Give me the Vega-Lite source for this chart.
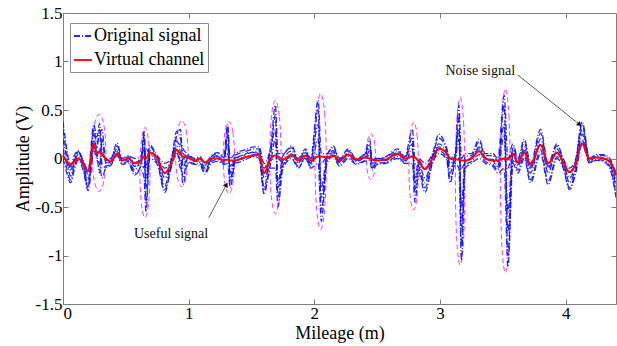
{
  "$schema": "https://vega.github.io/schema/vega-lite/v6.json",
  "width": 553,
  "height": 291,
  "autosize": "none",
  "padding": {"left": 63, "top": 13, "right": 1, "bottom": 42},
  "background": "white",
  "config": {
    "font": "Liberation Serif",
    "view": {"stroke": "#7f7f7f", "strokeWidth": 1},
    "axis": {
      "grid": false,
      "domainColor": "#7f7f7f",
      "tickColor": "#7f7f7f",
      "tickSize": -5,
      "labelFont": "Liberation Serif",
      "labelFontSize": 17,
      "labelColor": "#000000",
      "titleFont": "Liberation Serif",
      "titleFontSize": 18,
      "titleFontWeight": "normal",
      "titleColor": "#000000"
    }
  },
  "resolve": {"axis": {"x": "independent", "y": "independent"}},
  "datasets": {
    "sig": [
      {"x": 0.00, "a": 0.38, "b": 0.0, "c": 0.2, "d": 0.1, "e": 0.3, "f": 0.05, "r": 0.03},
      {"x": 0.03, "a": 0.1, "b": -0.15, "c": 0.0, "d": -0.05, "e": 0.05, "f": -0.1, "r": -0.03},
      {"x": 0.06, "a": -0.08, "b": -0.25, "c": -0.18, "d": -0.12, "e": -0.1, "f": -0.22, "r": -0.06},
      {"x": 0.09, "a": 0.03, "b": -0.12, "c": -0.05, "d": -0.02, "e": 0.0, "f": -0.08, "r": -0.03},
      {"x": 0.12, "a": 0.08, "b": -0.02, "c": 0.04, "d": 0.06, "e": 0.07, "f": 0.01, "r": 0.0},
      {"x": 0.16, "a": -0.02, "b": -0.12, "c": -0.06, "d": -0.04, "e": -0.03, "f": -0.09, "r": -0.05},
      {"x": 0.20, "a": -0.12, "b": -0.33, "c": -0.22, "d": -0.28, "e": -0.16, "f": -0.3, "r": -0.13},
      {"x": 0.245, "a": 0.35, "b": 0.08, "c": 0.25, "d": 0.18, "e": 0.3, "f": 0.12, "r": 0.15},
      {"x": 0.27, "a": 0.22, "b": -0.02, "c": 0.1, "d": 0.05, "e": 0.15, "f": 0.02, "r": 0.05},
      {"x": 0.29, "a": 0.36, "b": -0.05, "c": 0.3, "d": -0.15, "e": 0.25, "f": 0.1, "r": 0.07},
      {"x": 0.31, "a": 0.1, "b": -0.2, "c": -0.05, "d": 0.2, "e": 0.3, "f": -0.1, "r": 0.04},
      {"x": 0.34, "a": 0.0, "b": -0.1, "c": -0.05, "d": -0.04, "e": -0.02, "f": -0.08, "r": 0.0},
      {"x": 0.38, "a": 0.0, "b": -0.07, "c": -0.03, "d": -0.05, "e": -0.01, "f": -0.06, "r": -0.03},
      {"x": 0.43, "a": 0.16, "b": 0.03, "c": 0.1, "d": 0.07, "e": 0.13, "f": 0.05, "r": 0.05},
      {"x": 0.47, "a": 0.0, "b": -0.06, "c": -0.03, "d": -0.01, "e": -0.02, "f": -0.05, "r": -0.02},
      {"x": 0.52, "a": 0.03, "b": -0.05, "c": 0.0, "d": -0.02, "e": 0.02, "f": -0.03, "r": 0.0},
      {"x": 0.57, "a": 0.0, "b": -0.17, "c": -0.08, "d": -0.12, "e": -0.04, "f": -0.15, "r": -0.05},
      {"x": 0.62, "a": 0.02, "b": -0.12, "c": -0.05, "d": -0.03, "e": 0.0, "f": -0.08, "r": -0.02},
      {"x": 0.645, "a": 0.28, "b": -0.2, "c": 0.2, "d": -0.1, "e": 0.1, "f": 0.25, "r": 0.02},
      {"x": 0.66, "a": -0.1, "b": -0.55, "c": -0.45, "d": 0.1, "e": -0.3, "f": -0.2, "r": 0.0},
      {"x": 0.69, "a": 0.14, "b": 0.0, "c": 0.08, "d": 0.05, "e": 0.12, "f": 0.03, "r": 0.06},
      {"x": 0.75, "a": 0.03, "b": -0.06, "c": -0.01, "d": 0.0, "e": 0.02, "f": -0.04, "r": 0.0},
      {"x": 0.81, "a": -0.05, "b": -0.35, "c": -0.2, "d": -0.28, "e": -0.1, "f": -0.32, "r": -0.15},
      {"x": 0.86, "a": 0.0, "b": -0.1, "c": -0.05, "d": -0.03, "e": -0.02, "f": -0.08, "r": -0.05},
      {"x": 0.905, "a": 0.28, "b": 0.05, "c": 0.18, "d": 0.12, "e": 0.24, "f": 0.08, "r": 0.09},
      {"x": 0.935, "a": 0.2, "b": -0.05, "c": 0.05, "d": 0.15, "e": 0.3, "f": -0.1, "r": 0.04},
      {"x": 0.955, "a": 0.1, "b": -0.27, "c": -0.2, "d": 0.05, "e": -0.1, "f": 0.0, "r": 0.02},
      {"x": 0.99, "a": 0.05, "b": -0.05, "c": 0.0, "d": 0.02, "e": 0.03, "f": -0.03, "r": 0.01},
      {"x": 1.05, "a": 0.0, "b": -0.06, "c": -0.03, "d": -0.02, "e": -0.01, "f": -0.05, "r": -0.02},
      {"x": 1.09, "a": 0.02, "b": -0.07, "c": -0.02, "d": -0.04, "e": 0.0, "f": -0.05, "r": 0.0},
      {"x": 1.13, "a": -0.05, "b": -0.16, "c": -0.1, "d": -0.12, "e": -0.07, "f": -0.14, "r": -0.04},
      {"x": 1.18, "a": 0.03, "b": -0.05, "c": -0.01, "d": 0.0, "e": 0.02, "f": -0.03, "r": 0.0},
      {"x": 1.23, "a": 0.06, "b": -0.03, "c": 0.02, "d": 0.03, "e": 0.05, "f": -0.01, "r": 0.0},
      {"x": 1.28, "a": 0.03, "b": -0.06, "c": -0.01, "d": -0.03, "e": 0.01, "f": -0.05, "r": -0.02},
      {"x": 1.31, "a": 0.35, "b": -0.05, "c": 0.25, "d": 0.05, "e": 0.15, "f": 0.3, "r": -0.01},
      {"x": 1.33, "a": 0.0, "b": -0.3, "c": -0.25, "d": -0.08, "e": -0.15, "f": -0.2, "r": -0.02},
      {"x": 1.37, "a": 0.05, "b": -0.05, "c": 0.0, "d": 0.01, "e": 0.03, "f": -0.03, "r": -0.02},
      {"x": 1.42, "a": 0.08, "b": -0.03, "c": 0.03, "d": 0.01, "e": 0.06, "f": -0.01, "r": 0.0},
      {"x": 1.47, "a": 0.1, "b": 0.0, "c": 0.05, "d": 0.06, "e": 0.08, "f": 0.02, "r": 0.02},
      {"x": 1.52, "a": 0.12, "b": 0.02, "c": 0.07, "d": 0.06, "e": 0.1, "f": 0.04, "r": 0.03},
      {"x": 1.56, "a": 0.12, "b": 0.0, "c": 0.08, "d": 0.05, "e": 0.1, "f": 0.02, "r": 0.04},
      {"x": 1.60, "a": -0.05, "b": -0.37, "c": -0.2, "d": -0.3, "e": -0.1, "f": -0.33, "r": -0.15},
      {"x": 1.65, "a": 0.1, "b": -0.1, "c": 0.02, "d": -0.02, "e": 0.07, "f": -0.06, "r": 0.0},
      {"x": 1.69, "a": 0.55, "b": -0.1, "c": 0.45, "d": 0.0, "e": 0.3, "f": 0.2, "r": 0.03},
      {"x": 1.71, "a": 0.05, "b": -0.5, "c": -0.4, "d": 0.0, "e": -0.25, "f": -0.3, "r": 0.02},
      {"x": 1.75, "a": 0.05, "b": -0.1, "c": -0.02, "d": -0.05, "e": 0.03, "f": -0.07, "r": -0.01},
      {"x": 1.82, "a": 0.13, "b": 0.0, "c": 0.08, "d": 0.05, "e": 0.11, "f": 0.02, "r": 0.04},
      {"x": 1.87, "a": 0.0, "b": -0.1, "c": -0.05, "d": -0.04, "e": -0.02, "f": -0.08, "r": -0.02},
      {"x": 1.93, "a": 0.1, "b": 0.0, "c": 0.06, "d": 0.03, "e": 0.08, "f": 0.01, "r": 0.03},
      {"x": 1.97, "a": 0.0, "b": -0.1, "c": -0.05, "d": -0.06, "e": -0.02, "f": -0.08, "r": -0.02},
      {"x": 2.03, "a": 0.6, "b": -0.05, "c": 0.5, "d": 0.05, "e": 0.35, "f": 0.2, "r": 0.02},
      {"x": 2.055, "a": 0.05, "b": -0.65, "c": -0.55, "d": -0.05, "e": -0.3, "f": -0.4, "r": 0.02},
      {"x": 2.10, "a": 0.05, "b": -0.05, "c": 0.0, "d": 0.02, "e": 0.03, "f": -0.03, "r": 0.01},
      {"x": 2.15, "a": 0.13, "b": 0.02, "c": 0.08, "d": 0.06, "e": 0.11, "f": 0.04, "r": 0.03},
      {"x": 2.20, "a": 0.0, "b": -0.08, "c": -0.04, "d": -0.03, "e": -0.01, "f": -0.06, "r": -0.02},
      {"x": 2.27, "a": 0.1, "b": 0.0, "c": 0.06, "d": 0.04, "e": 0.08, "f": 0.02, "r": 0.04},
      {"x": 2.33, "a": 0.0, "b": -0.06, "c": -0.03, "d": -0.02, "e": -0.01, "f": -0.05, "r": -0.01},
      {"x": 2.40, "a": 0.05, "b": -0.03, "c": 0.02, "d": 0.01, "e": 0.04, "f": -0.02, "r": 0.01},
      {"x": 2.44, "a": 0.2, "b": -0.02, "c": 0.15, "d": 0.03, "e": 0.1, "f": 0.08, "r": 0.0},
      {"x": 2.46, "a": 0.0, "b": -0.12, "c": -0.08, "d": 0.0, "e": -0.05, "f": -0.1, "r": -0.01},
      {"x": 2.50, "a": 0.0, "b": -0.06, "c": -0.03, "d": -0.02, "e": -0.01, "f": -0.05, "r": -0.02},
      {"x": 2.57, "a": 0.02, "b": -0.05, "c": -0.01, "d": -0.02, "e": 0.01, "f": -0.04, "r": -0.01},
      {"x": 2.66, "a": 0.1, "b": 0.0, "c": 0.06, "d": 0.04, "e": 0.08, "f": 0.02, "r": 0.05},
      {"x": 2.72, "a": 0.02, "b": -0.05, "c": 0.0, "d": -0.02, "e": 0.01, "f": -0.04, "r": 0.0},
      {"x": 2.78, "a": 0.3, "b": -0.05, "c": 0.22, "d": 0.02, "e": 0.15, "f": 0.1, "r": 0.02},
      {"x": 2.80, "a": 0.0, "b": -0.45, "c": -0.35, "d": -0.05, "e": -0.2, "f": -0.25, "r": 0.01},
      {"x": 2.83, "a": 0.0, "b": -0.15, "c": -0.05, "d": -0.08, "e": -0.02, "f": -0.12, "r": -0.03},
      {"x": 2.88, "a": -0.05, "b": -0.35, "c": -0.2, "d": -0.25, "e": -0.1, "f": -0.3, "r": -0.11},
      {"x": 2.94, "a": 0.05, "b": -0.05, "c": 0.0, "d": 0.02, "e": 0.03, "f": -0.03, "r": 0.0},
      {"x": 2.99, "a": 0.25, "b": 0.05, "c": 0.15, "d": 0.12, "e": 0.21, "f": 0.08, "r": 0.1},
      {"x": 3.05, "a": 0.12, "b": 0.0, "c": 0.07, "d": 0.05, "e": 0.1, "f": 0.02, "r": 0.06},
      {"x": 3.08, "a": 0.0, "b": -0.25, "c": -0.1, "d": -0.15, "e": -0.05, "f": -0.2, "r": 0.0},
      {"x": 3.12, "a": 0.05, "b": -0.05, "c": 0.0, "d": 0.02, "e": 0.03, "f": -0.03, "r": -0.01},
      {"x": 3.15, "a": 0.55, "b": -0.1, "c": 0.45, "d": 0.0, "e": 0.3, "f": 0.2, "r": -0.01},
      {"x": 3.17, "a": 0.0, "b": -1.05, "c": -0.9, "d": -0.1, "e": -0.5, "f": -0.7, "r": -0.02},
      {"x": 3.20, "a": 0.05, "b": -0.1, "c": -0.02, "d": -0.04, "e": 0.02, "f": -0.07, "r": -0.02},
      {"x": 3.25, "a": 0.05, "b": -0.05, "c": 0.0, "d": 0.01, "e": 0.03, "f": -0.03, "r": 0.0},
      {"x": 3.31, "a": 0.2, "b": 0.0, "c": 0.12, "d": 0.1, "e": 0.17, "f": 0.04, "r": 0.075},
      {"x": 3.36, "a": 0.05, "b": -0.05, "c": 0.0, "d": 0.01, "e": 0.03, "f": -0.03, "r": 0.0},
      {"x": 3.42, "a": 0.05, "b": -0.08, "c": -0.01, "d": -0.02, "e": 0.03, "f": -0.06, "r": -0.02},
      {"x": 3.46, "a": 0.0, "b": -0.15, "c": -0.08, "d": -0.1, "e": -0.03, "f": -0.12, "r": -0.02},
      {"x": 3.51, "a": 0.65, "b": -0.1, "c": 0.55, "d": 0.0, "e": 0.35, "f": 0.25, "r": 0.0},
      {"x": 3.54, "a": 0.0, "b": -1.12, "c": -1.0, "d": -0.1, "e": -0.55, "f": -0.75, "r": -0.01},
      {"x": 3.58, "a": 0.15, "b": -0.05, "c": 0.05, "d": 0.08, "e": 0.12, "f": -0.02, "r": 0.05},
      {"x": 3.62, "a": 0.0, "b": -0.15, "c": -0.08, "d": -0.06, "e": -0.02, "f": -0.12, "r": -0.04},
      {"x": 3.67, "a": 0.2, "b": 0.0, "c": 0.12, "d": 0.08, "e": 0.17, "f": 0.03, "r": 0.06},
      {"x": 3.72, "a": -0.05, "b": -0.25, "c": -0.15, "d": -0.1, "e": -0.08, "f": -0.22, "r": -0.06},
      {"x": 3.80, "a": 0.3, "b": 0.05, "c": 0.2, "d": 0.15, "e": 0.26, "f": 0.09, "r": 0.14},
      {"x": 3.86, "a": -0.05, "b": -0.27, "c": -0.15, "d": -0.1, "e": -0.08, "f": -0.23, "r": -0.05},
      {"x": 3.93, "a": 0.15, "b": 0.0, "c": 0.1, "d": 0.06, "e": 0.13, "f": 0.02, "r": 0.06},
      {"x": 3.98, "a": 0.0, "b": -0.1, "c": -0.05, "d": -0.04, "e": -0.02, "f": -0.08, "r": -0.04},
      {"x": 4.03, "a": -0.1, "b": -0.32, "c": -0.2, "d": -0.25, "e": -0.14, "f": -0.3, "r": -0.14},
      {"x": 4.08, "a": 0.0, "b": -0.15, "c": -0.05, "d": -0.08, "e": -0.02, "f": -0.12, "r": -0.05},
      {"x": 4.13, "a": 0.38, "b": 0.15, "c": 0.3, "d": 0.25, "e": 0.35, "f": 0.19, "r": 0.155},
      {"x": 4.19, "a": 0.0, "b": -0.05, "c": -0.02, "d": -0.03, "e": -0.01, "f": -0.04, "r": 0.0},
      {"x": 4.24, "a": 0.04, "b": -0.02, "c": 0.01, "d": 0.02, "e": 0.03, "f": -0.01, "r": 0.01},
      {"x": 4.30, "a": 0.04, "b": -0.03, "c": 0.01, "d": 0.0, "e": 0.03, "f": -0.02, "r": 0.0},
      {"x": 4.35, "a": 0.0, "b": -0.1, "c": -0.05, "d": -0.04, "e": -0.02, "f": -0.08, "r": -0.03},
      {"x": 4.40, "a": -0.15, "b": -0.4, "c": -0.3, "d": -0.25, "e": -0.2, "f": -0.37, "r": -0.17}
    ],
    "ell": [
      {"e": 1, "k": 0, "x": 0.287, "y": 0.455}, {"e": 1, "k": 1, "x": 0.326, "y": 0.339}, {"e": 1, "k": 2, "x": 0.342, "y": 0.058}, {"e": 1, "k": 3, "x": 0.326, "y": -0.224},
      {"e": 1, "k": 4, "x": 0.287, "y": -0.34}, {"e": 1, "k": 5, "x": 0.248, "y": -0.224}, {"e": 1, "k": 6, "x": 0.232, "y": 0.058}, {"e": 1, "k": 7, "x": 0.248, "y": 0.339},
      {"e": 2, "k": 0, "x": 0.652, "y": 0.32}, {"e": 2, "k": 1, "x": 0.68, "y": 0.184}, {"e": 2, "k": 2, "x": 0.692, "y": -0.145}, {"e": 2, "k": 3, "x": 0.68, "y": -0.474},
      {"e": 2, "k": 4, "x": 0.652, "y": -0.61}, {"e": 2, "k": 5, "x": 0.624, "y": -0.474}, {"e": 2, "k": 6, "x": 0.612, "y": -0.145}, {"e": 2, "k": 7, "x": 0.624, "y": 0.184},
      {"e": 3, "k": 0, "x": 0.945, "y": 0.39}, {"e": 3, "k": 1, "x": 0.98, "y": 0.29}, {"e": 3, "k": 2, "x": 0.995, "y": 0.05}, {"e": 3, "k": 3, "x": 0.98, "y": -0.19},
      {"e": 3, "k": 4, "x": 0.945, "y": -0.29}, {"e": 3, "k": 5, "x": 0.91, "y": -0.19}, {"e": 3, "k": 6, "x": 0.895, "y": 0.05}, {"e": 3, "k": 7, "x": 0.91, "y": 0.29},
      {"e": 4, "k": 0, "x": 1.32, "y": 0.38}, {"e": 4, "k": 1, "x": 1.352, "y": 0.271}, {"e": 4, "k": 2, "x": 1.365, "y": 0.008}, {"e": 4, "k": 3, "x": 1.352, "y": -0.256},
      {"e": 4, "k": 4, "x": 1.32, "y": -0.365}, {"e": 4, "k": 5, "x": 1.288, "y": -0.256}, {"e": 4, "k": 6, "x": 1.275, "y": 0.008}, {"e": 4, "k": 7, "x": 1.288, "y": 0.271},
      {"e": 5, "k": 0, "x": 1.69, "y": 0.6}, {"e": 5, "k": 1, "x": 1.722, "y": 0.429}, {"e": 5, "k": 2, "x": 1.735, "y": 0.015}, {"e": 5, "k": 3, "x": 1.722, "y": -0.399},
      {"e": 5, "k": 4, "x": 1.69, "y": -0.57}, {"e": 5, "k": 5, "x": 1.658, "y": -0.399}, {"e": 5, "k": 6, "x": 1.645, "y": 0.015}, {"e": 5, "k": 7, "x": 1.658, "y": 0.429},
      {"e": 6, "k": 0, "x": 2.05, "y": 0.67}, {"e": 6, "k": 1, "x": 2.082, "y": 0.465}, {"e": 6, "k": 2, "x": 2.095, "y": -0.03}, {"e": 6, "k": 3, "x": 2.082, "y": -0.525},
      {"e": 6, "k": 4, "x": 2.05, "y": -0.73}, {"e": 6, "k": 5, "x": 2.018, "y": -0.525}, {"e": 6, "k": 6, "x": 2.005, "y": -0.03}, {"e": 6, "k": 7, "x": 2.018, "y": 0.465},
      {"e": 7, "k": 0, "x": 2.45, "y": 0.255}, {"e": 7, "k": 1, "x": 2.476, "y": 0.186}, {"e": 7, "k": 2, "x": 2.487, "y": 0.018}, {"e": 7, "k": 3, "x": 2.476, "y": -0.15},
      {"e": 7, "k": 4, "x": 2.45, "y": -0.22}, {"e": 7, "k": 5, "x": 2.424, "y": -0.15}, {"e": 7, "k": 6, "x": 2.413, "y": 0.018}, {"e": 7, "k": 7, "x": 2.424, "y": 0.186},
      {"e": 8, "k": 0, "x": 2.79, "y": 0.375}, {"e": 8, "k": 1, "x": 2.817, "y": 0.242}, {"e": 8, "k": 2, "x": 2.828, "y": -0.078}, {"e": 8, "k": 3, "x": 2.817, "y": -0.398},
      {"e": 8, "k": 4, "x": 2.79, "y": -0.53}, {"e": 8, "k": 5, "x": 2.763, "y": -0.398}, {"e": 8, "k": 6, "x": 2.752, "y": -0.078}, {"e": 8, "k": 7, "x": 2.763, "y": 0.242},
      {"e": 9, "k": 0, "x": 3.16, "y": 0.63}, {"e": 9, "k": 1, "x": 3.187, "y": 0.377}, {"e": 9, "k": 2, "x": 3.198, "y": -0.235}, {"e": 9, "k": 3, "x": 3.187, "y": -0.847},
      {"e": 9, "k": 4, "x": 3.16, "y": -1.1}, {"e": 9, "k": 5, "x": 3.133, "y": -0.847}, {"e": 9, "k": 6, "x": 3.122, "y": -0.235}, {"e": 9, "k": 7, "x": 3.133, "y": 0.377},
      {"e": 10, "k": 0, "x": 3.52, "y": 0.72}, {"e": 10, "k": 1, "x": 3.548, "y": 0.442}, {"e": 10, "k": 2, "x": 3.56, "y": -0.23}, {"e": 10, "k": 3, "x": 3.548, "y": -0.902},
      {"e": 10, "k": 4, "x": 3.52, "y": -1.18}, {"e": 10, "k": 5, "x": 3.492, "y": -0.902}, {"e": 10, "k": 6, "x": 3.48, "y": -0.23}, {"e": 10, "k": 7, "x": 3.492, "y": 0.442}
    ]
  },
  "layer": [
    {
      "data": {"name": "ell"},
      "mark": {"type": "line", "color": "#ff33ff", "strokeWidth": 1, "strokeDash": [5, 3], "interpolate": "cardinal-closed"},
      "encoding": {
        "x": {"field": "x", "type": "quantitative", "scale": {"domain": [0, 4.4], "nice": false, "zero": false},
              "axis": {"orient": "bottom", "values": [0, 1, 2, 3, 4], "title": "Mileage (m)", "labelPadding": 6, "titlePadding": 3}},
        "y": {"field": "y", "type": "quantitative", "scale": {"domain": [-1.5, 1.5], "nice": false, "zero": false},
              "axis": {"orient": "left", "values": [-1.5, -1, -0.5, 0, 0.5, 1, 1.5], "labelExpr": "datum.value", "title": "Amplitude (V)", "labelPadding": 6, "titlePadding": 3}},
        "detail": {"field": "e"},
        "order": {"field": "k"}
      }
    },
    {
      "data": {"name": "sig"},
      "transform": [{"fold": ["a", "b", "c", "d", "e", "f"], "as": ["ch", "v"]}],
      "mark": {"type": "line", "strokeWidth": 1.3, "interpolate": "monotone", "opacity": 0.9, "clip": true},
      "encoding": {
        "x": {"field": "x", "type": "quantitative", "axis": null},
        "y": {"field": "v", "type": "quantitative", "axis": null},
        "detail": {"field": "ch"},
        "strokeDash": {"datum": "Original signal", "type": "nominal",
          "scale": {"domain": ["Original signal", "Virtual channel"], "range": [[6, 2, 1, 2], [1, 0]]},
          "legend": null},
        "color": {"datum": "Original signal", "type": "nominal",
          "scale": {"domain": ["Original signal", "Virtual channel"], "range": ["#1010ff", "#ff0000"]},
          "legend": {
            "title": null, "orient": "none", "legendX": 7, "legendY": 10,
            "symbolType": "stroke", "symbolSize": 324, "symbolStrokeWidth": 1.8,
            "labelFont": "Liberation Serif", "labelFontSize": 18, "labelColor": "#000000", "labelOffset": 1,
            "rowPadding": 5, "padding": 3, "strokeColor": "#8c8c8c", "fillColor": "#ffffff"
          }}
      }
    },
    {
      "data": {"name": "sig"},
      "mark": {"type": "line", "strokeWidth": 2, "interpolate": "monotone"},
      "encoding": {
        "x": {"field": "x", "type": "quantitative", "axis": null},
        "y": {"field": "r", "type": "quantitative", "axis": null},
        "strokeDash": {"datum": "Virtual channel", "type": "nominal"},
        "color": {"datum": "Virtual channel", "type": "nominal"}
      }
    },
    {
      "data": {"values": [{"x": 3.62, "y": 0.86, "x2": 4.11, "y2": 0.35}, {"x": 1.16, "y": -0.61, "x2": 1.30, "y2": -0.27}]},
      "mark": {"type": "rule", "color": "#333333", "strokeWidth": 0.8},
      "encoding": {
        "x": {"field": "x", "type": "quantitative", "axis": null},
        "y": {"field": "y", "type": "quantitative", "axis": null},
        "x2": {"field": "x2"},
        "y2": {"field": "y2"}
      }
    },
    {
      "data": {"values": [{"x": 4.11, "y": 0.35}]},
      "mark": {"type": "point", "shape": "triangle-up", "filled": true, "color": "#111111", "size": 30, "angle": 128, "opacity": 1},
      "encoding": {
        "x": {"field": "x", "type": "quantitative", "axis": null},
        "y": {"field": "y", "type": "quantitative", "axis": null}
      }
    },
    {
      "data": {"values": [{"x": 1.30, "y": -0.27}]},
      "mark": {"type": "point", "shape": "triangle-up", "filled": true, "color": "#111111", "size": 30, "angle": 27, "opacity": 1},
      "encoding": {
        "x": {"field": "x", "type": "quantitative", "axis": null},
        "y": {"field": "y", "type": "quantitative", "axis": null}
      }
    },
    {
      "data": {"values": [{"t": "Noise signal", "x": 3.32, "y": 0.9}, {"t": "Useful signal", "x": 0.86, "y": -0.78}]},
      "mark": {"type": "text", "font": "Liberation Serif", "fontSize": 14, "color": "#111111", "baseline": "middle", "align": "center"},
      "encoding": {
        "x": {"field": "x", "type": "quantitative", "axis": {"orient": "top", "values": [1, 2, 3, 4], "labels": false, "title": null, "domain": false}},
        "y": {"field": "y", "type": "quantitative", "axis": {"orient": "right", "values": [-1, -0.5, 0, 0.5, 1], "labels": false, "title": null, "domain": false}},
        "text": {"field": "t"}
      }
    }
  ]
}
